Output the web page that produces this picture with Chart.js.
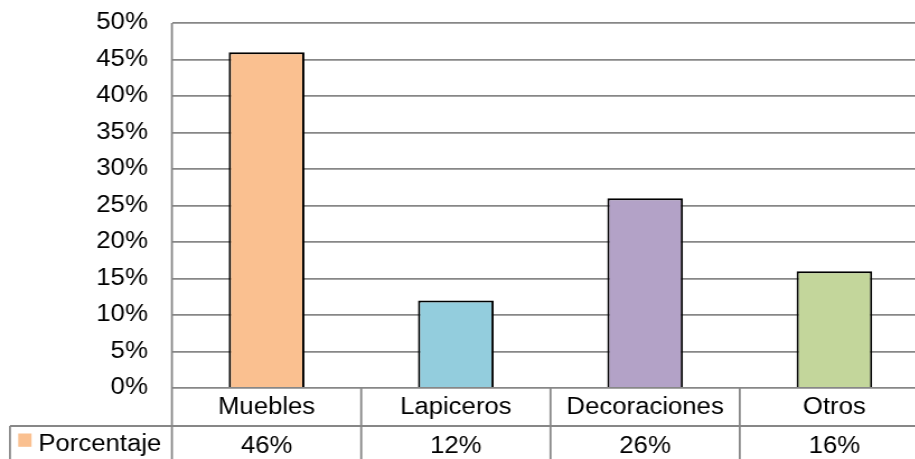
<!DOCTYPE html>
<html>
<head>
<meta charset="utf-8">
<script src="https://cdn.jsdelivr.net/npm/chart.js@4.4.1/dist/chart.umd.min.js"></script>
<style>
  html, body { margin: 0; padding: 0; background: #fff; overflow: hidden; }
  #wrap { width: 830px; height: 459px; transform: scaleX(1.1193); transform-origin: 0 0; }
</style>
</head>
<body>
<div id="wrap"><canvas id="chart" width="830" height="459"></canvas></div>
<script>
const categorias = ['Muebles', 'Lapiceros', 'Decoraciones', 'Otros'];
const porcentajes = [46, 12, 26, 16];
const colores = ['#FAC090', '#93CDDD', '#B3A2C7', '#C3D69B'];
const serie = 'Porcentaje';

const FONT = "'Liberation Sans', Arial, sans-serif";
const GRIS = '#878787';

// tabla de datos debajo del eje (categorías + fila de valores)
const tablaDatos = {
  id: 'tablaDatos',
  afterDraw(chart) {
    const ctx = chart.ctx;
    const area = chart.chartArea;
    const x = chart.scales.x;
    const fila1 = area.bottom + 38;
    const fila2 = fila1 + 38;
    const celda = (area.right - area.left) / categorias.length;
    const izq = 8.9;

    ctx.save();
    ctx.strokeStyle = GRIS;
    ctx.lineWidth = 1.8;
    ctx.beginPath();
    // eje vertical que baja por toda la tabla
    ctx.moveTo(area.left, area.top);
    ctx.lineTo(area.left, fila2);
    // línea entre filas
    ctx.moveTo(izq, fila1);
    ctx.lineTo(area.right, fila1);
    // borde izquierdo de la celda de leyenda
    ctx.moveTo(izq, fila1);
    ctx.lineTo(izq, fila2);
    // separadores de categorías
    for (let i = 1; i < categorias.length; i++) {
      const xs = area.left + celda * i;
      ctx.moveTo(xs, area.bottom);
      ctx.lineTo(xs, fila2);
    }
    ctx.stroke();

    ctx.fillStyle = '#000';
    ctx.font = '23px ' + FONT;
    ctx.textAlign = 'center';
    ctx.textBaseline = 'alphabetic';
    categorias.forEach((c, i) => {
      const cx = x.getPixelForValue(i);
      ctx.fillText(c, cx, area.bottom + 26);
      ctx.fillText(porcentajes[i] + '%', cx, fila1 + 27);
    });

    // clave de la serie
    ctx.fillStyle = colores[0];
    ctx.fillRect(16.3, fila1 + 7.5, 11.9, 13.3);
    ctx.fillStyle = '#000';
    ctx.textAlign = 'left';
    ctx.fillText(serie, 34.2, fila1 + 24.5);
    ctx.restore();
  }
};

new Chart(document.getElementById('chart'), {
  type: 'bar',
  data: {
    labels: categorias,
    datasets: [{
      label: serie,
      data: porcentajes,
      backgroundColor: colores,
      borderColor: '#000',
      borderWidth: 2,
      barPercentage: 0.4,
      categoryPercentage: 1
    }]
  },
  options: {
    responsive: false,
    animation: false,
    layout: { padding: { top: 23, bottom: 71, left: 0, right: 0 } },
    plugins: { legend: { display: false }, tooltip: { enabled: false } },
    scales: {
      x: { display: false },
      y: {
        min: 0,
        max: 50,
        afterFit(scale) {
          scale.width = 153.6;
          scale.paddingTop = 0;
          scale.paddingBottom = 0;
        },
        border: { display: false },
        grid: { color: GRIS, lineWidth: 1.8, drawTicks: false },
        ticks: {
          stepSize: 5,
          padding: 21.5,
          color: '#000',
          font: { family: FONT, size: 23 },
          callback: v => v + '%'
        }
      }
    }
  },
  plugins: [tablaDatos]
});
</script>
</body>
</html>
